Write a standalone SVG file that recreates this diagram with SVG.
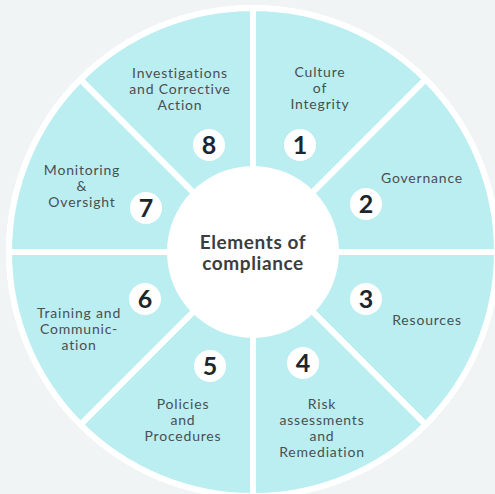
<svg xmlns="http://www.w3.org/2000/svg" width="495" height="494" viewBox="0 0 495 494">
<style>
.seg{fill:#bbeef0;stroke:#ffffff;stroke-width:6;stroke-linejoin:miter}
.lbl{font-family:Lato,"Open Sans","Liberation Sans",sans-serif;font-size:14px;fill:#4a4f52;text-anchor:middle;letter-spacing:0.8px}
.num{font-family:Lato,"Open Sans","Liberation Sans",sans-serif;font-size:25px;font-weight:bold;fill:#1d262d;text-anchor:middle}
.badge{fill:#ffffff}
.ctr{font-family:Lato,"Open Sans","Liberation Sans",sans-serif;font-size:19px;font-weight:bold;fill:#3b3d3f;text-anchor:middle;letter-spacing:0.6px}
</style>
<rect width="495" height="494" fill="#f1f4f4"/>
<circle cx="253" cy="252" r="247" fill="#ffffff"/>
<g id="connectors"></g>
<g id="seg1">
<path class="seg" d="M253 252 L253 8 A244 244 0 0 1 425.53 79.47 Z"/>
<text class="lbl" x="320" y="77">Culture</text>
<text class="lbl" x="320" y="93">of</text>
<text class="lbl" x="320" y="109">Integrity</text>
<circle class="badge" cx="300" cy="145" r="16"/>
<text class="num" x="300" y="154">1</text>
</g>
<g id="seg2">
<path class="seg" d="M253 252 L425.53 79.47 A244 244 0 0 1 497 252 Z"/>
<text class="lbl" x="422" y="183">Governance</text>
<circle class="badge" cx="366" cy="204" r="16"/>
<text class="num" x="366" y="213">2</text>
</g>
<g id="seg3">
<path class="seg" d="M253 252 L497 252 A244 244 0 0 1 425.53 424.53 Z"/>
<text class="lbl" x="427" y="325">Resources</text>
<circle class="badge" cx="366" cy="299" r="16"/>
<text class="num" x="366" y="308">3</text>
</g>
<g id="seg4">
<path class="seg" d="M253 252 L425.53 424.53 A244 244 0 0 1 253 496 Z"/>
<text class="lbl" x="322" y="409">Risk</text>
<text class="lbl" x="322" y="425">assessments</text>
<text class="lbl" x="322" y="441">and</text>
<text class="lbl" x="322" y="457">Remediation</text>
<circle class="badge" cx="303" cy="363" r="16"/>
<text class="num" x="303" y="372">4</text>
</g>
<g id="seg5">
<path class="seg" d="M253 252 L253 496 A244 244 0 0 1 80.47 424.53 Z"/>
<text class="lbl" x="183" y="409">Policies</text>
<text class="lbl" x="183" y="425">and</text>
<text class="lbl" x="183" y="441">Procedures</text>
<circle class="badge" cx="210" cy="366" r="16"/>
<text class="num" x="210" y="375">5</text>
</g>
<g id="seg6">
<path class="seg" d="M253 252 L80.47 424.53 A244 244 0 0 1 9 252 Z"/>
<text class="lbl" x="79" y="318">Training and</text>
<text class="lbl" x="79" y="334">Communic-</text>
<text class="lbl" x="79" y="350">ation</text>
<circle class="badge" cx="145" cy="299" r="16"/>
<text class="num" x="145" y="308">6</text>
</g>
<g id="seg7">
<path class="seg" d="M253 252 L9 252 A244 244 0 0 1 80.47 79.47 Z"/>
<text class="lbl" x="82" y="175">Monitoring</text>
<text class="lbl" x="82" y="191">&amp;</text>
<text class="lbl" x="82" y="207">Oversight</text>
<circle class="badge" cx="146" cy="208" r="16"/>
<text class="num" x="146" y="217">7</text>
</g>
<g id="seg8">
<path class="seg" d="M253 252 L80.47 79.47 A244 244 0 0 1 253 8 Z"/>
<text class="lbl" x="180" y="78">Investigations</text>
<text class="lbl" x="180" y="94">and Corrective</text>
<text class="lbl" x="180" y="110">Action</text>
<circle class="badge" cx="209" cy="145" r="16"/>
<text class="num" x="209" y="154">8</text>
</g>
<g id="center">
<circle cx="253" cy="252" r="86" fill="#ffffff"/>
<text class="ctr" x="253" y="249">Elements of</text>
<text class="ctr" x="253" y="270">compliance</text>
</g>
</svg>
